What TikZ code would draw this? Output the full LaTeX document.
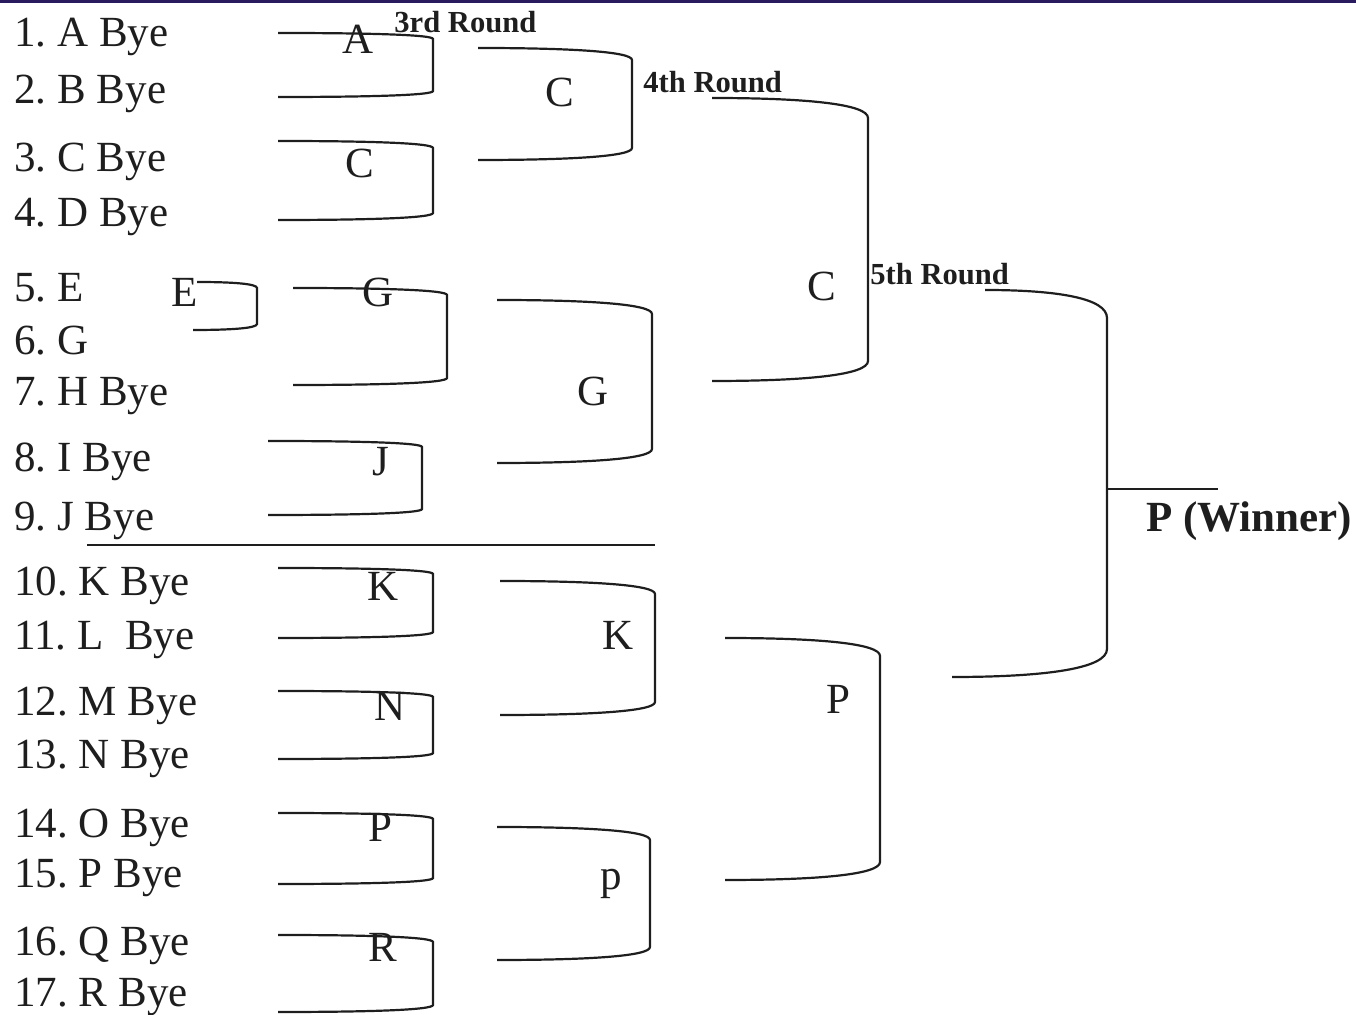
\documentclass[tikz,border=0pt]{standalone}
\usepackage{fontspec}
\setmainfont{Liberation Serif}
\usetikzlibrary{calc}
\frenchspacing
\definecolor{topbar}{RGB}{42,26,94}
\definecolor{inkc}{RGB}{30,30,30}
\tikzset{
  bracketline/.style={draw=inkc, line width=1.1pt},
  entry/.style={anchor=base west, inner sep=0pt, font=\fontsize{21.5}{24}\selectfont, text=inkc},
  winlbl/.style={anchor=base, inner sep=0pt, font=\fontsize{21.5}{24}\selectfont, text=inkc},
  roundlbl/.style={anchor=base west, inner sep=0pt, font=\fontsize{15.3}{17}\selectfont\bfseries, text=inkc},
  champ/.style={anchor=base west, inner sep=0pt, font=\fontsize{21.5}{24}\selectfont\bfseries, text=inkc}
}
% #1 name, #2 x left (top), #3 x left (bottom), #4 x right, #5 y top, #6 y bottom, #7 corner drop
\newcommand\brk[7]{%
  \coordinate (#1-t) at (#2,#5);
  \coordinate (#1-b) at (#3,#6);
  \coordinate (#1-r) at (#4,{(#5+#6)/2});
  \draw[bracketline] (#1-t) .. controls ({#4-(#4-#2)*0.4},#5) and (#4,{#5+#7*0.3}) .. (#4,{#5+#7})
     -- (#4,{#6-#7}) .. controls (#4,{#6-#7*0.3}) and ({#4-(#4-#3)*0.4},#6) .. (#1-b);
}
\begin{document}
\begin{tikzpicture}[x=0.5pt,y=-0.5pt]
\useasboundingbox (0,0) rectangle (1356,1015);
\fill[topbar] (0,0) rectangle (1356,3.5);

% entries
\node[entry] (e1)  at (14,47)   {1. A Bye};
\node[entry] (e2)  at (14,104)  {2. B Bye};
\node[entry] (e3)  at (14,172)  {3. C Bye};
\node[entry] (e4)  at (14,227)  {4. D Bye};
\node[entry] (e5)  at (14,302)  {5. E};
\node[entry] (e6)  at (14,355)  {6. G};
\node[entry] (e7)  at (14,406)  {7. H Bye};
\node[entry] (e8)  at (14,472)  {8. I Bye};
\node[entry] (e9)  at (14,531)  {9. J Bye};
\node[entry] (e10) at (14,596)  {10. K Bye};
\node[entry] (e11) at (14,650)  {11. L\ \ Bye};
\node[entry] (e12) at (14,716)  {12. M Bye};
\node[entry] (e13) at (14,769)  {13. N Bye};
\node[entry] (e14) at (14,838)  {14. O Bye};
\node[entry] (e15) at (14,888)  {15. P Bye};
\node[entry] (e16) at (14,956)  {16. Q Bye};
\node[entry] (e17) at (14,1007) {17. R Bye};

% divider
\coordinate (divL) at (87,545);
\coordinate (divR) at (655,545);
\draw[bracketline] (divL) -- (divR);

% first column brackets
\brk{bA}{278}{278}{433}{33}{97}{6}
\brk{bC}{278}{278}{433}{141}{220}{7}
\brk{bE}{197}{193}{257}{282}{330}{6}
\brk{bG}{293}{293}{447}{288}{385}{7}
\brk{bJ}{268}{268}{422}{441}{515}{6}
\brk{bK}{278}{278}{433}{568}{638}{6}
\brk{bN}{278}{278}{433}{691}{759}{6}
\brk{bP}{278}{278}{433}{813}{884}{6}
\brk{bR}{278}{278}{433}{935}{1012}{7}

\node[winlbl] (wA) at (358,54)  {A};
\node[winlbl] (wC) at (360,178) {C};
\node[winlbl] (wE) at (185,307) {E};
\node[winlbl] (wG) at (378,307) {G};
\node[winlbl] (wJ) at (381,476) {J};
\node[winlbl] (wK) at (383,601) {K};
\node[winlbl] (wN) at (390,721) {N};
\node[winlbl] (wP) at (380,842) {P};
\node[winlbl] (wR) at (383,962) {R};

% second column
\brk{cC}{478}{478}{632}{48}{160}{12}
\brk{cG}{497}{497}{652}{300}{463}{14}
\brk{cK}{500}{500}{655}{581}{715}{13}
\brk{cP}{497}{497}{650}{827}{960}{13}

\node[winlbl] (xC) at (560,107) {C};
\node[winlbl] (xG) at (593,406) {G};
\node[winlbl] (xK) at (618,650) {K};
\node[winlbl] (xP) at (611,890) {p};

% third column
\brk{dC}{712}{712}{868}{98}{381}{20}
\brk{dP}{725}{725}{880}{638}{880}{18}
\node[winlbl] (yC) at (822,301) {C};
\node[winlbl] (yP) at (838,714) {P};

% final
\brk{fin}{985}{952}{1107}{290}{677}{28}
\coordinate (winend) at (1218,489);
\coordinate (winstart) at (1107,489);
\draw[bracketline] (winstart) -- (winend);
\node[champ] (champ) at (1146,532) {P (Winner)};

% round labels
\node[roundlbl] (r3) at (394,33) {3rd Round};
\node[roundlbl] (r4) at (643,93) {4th Round};
\node[roundlbl] (r5) at (870,285) {5th Round};
\end{tikzpicture}
\end{document}
